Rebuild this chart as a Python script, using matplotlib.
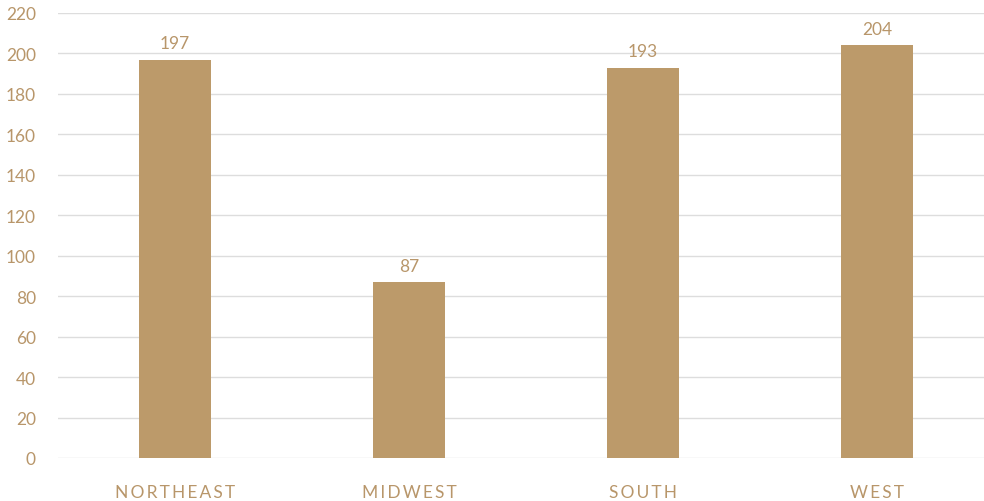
import matplotlib.pyplot as plt

regions = ["NORTHEAST", "MIDWEST", "SOUTH", "WEST"]
counts = [197, 87, 193, 204]
yticks = list(range(0, 221, 20))

bar_color = "#BC9A6A"
text_color = "#B8966A"

plt.rcParams["font.family"] = ["Lato", "DejaVu Sans"]

fig = plt.figure(figsize=(9.84, 5.02), dpi=100)
ax = fig.add_axes([58 / 984, 43 / 502, 926 / 984, 445 / 502])

x = range(len(regions))
bars = ax.bar(x, counts, width=0.31, color=bar_color, zorder=3)

for b, v in zip(bars, counts):
    ax.annotate(str(v), (b.get_x() + b.get_width() / 2, v), xytext=(0, 6),
                textcoords="offset points", ha="center", va="bottom",
                color=text_color, fontsize=12.5)

ax.set_xlim(-0.5, 3.5 - 10 / 234)
ax.set_ylim(0, 220)
ax.set_yticks(yticks)
ax.set_yticklabels([str(t) for t in yticks])
ax.set_xticks(list(x))
ax.set_xticklabels(["\u2009".join(r) for r in regions])

ax.grid(axis="y", color="#dddddd", linewidth=1, zorder=0)
for s in ax.spines.values():
    s.set_visible(False)
ax.tick_params(axis="both", length=0, colors=text_color, labelsize=12.5)
ax.tick_params(axis="y", pad=16)
ax.tick_params(axis="x", pad=18.5)

fig.savefig("out.png", dpi=100)
